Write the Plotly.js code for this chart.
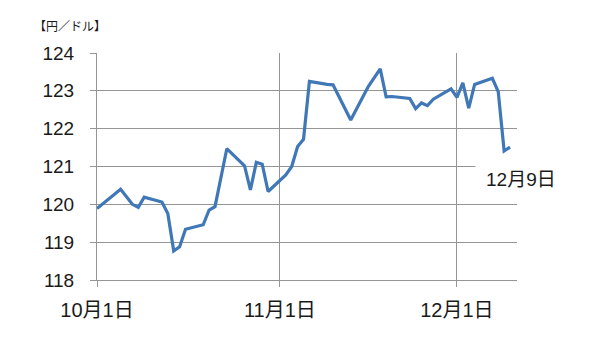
<!DOCTYPE html>
<html>
<head>
<meta charset="utf-8">
<script src="https://cdn.plot.ly/plotly-3.0.1.min.js"></script>
<style>
  html, body { margin: 0; padding: 0; background: #fff; }
  #chart { width: 600px; height: 364px; }
</style>
</head>
<body>
<div id="chart"></div>
<script>
// Trading days (2015) and USD/JPY rate
const dates = [
  '2015-10-01','2015-10-05','2015-10-07','2015-10-08','2015-10-09',
  '2015-10-12','2015-10-13','2015-10-14','2015-10-15','2015-10-16',
  '2015-10-19','2015-10-20','2015-10-21','2015-10-23','2015-10-26',
  '2015-10-27','2015-10-28','2015-10-29','2015-10-30','2015-11-02',
  '2015-11-03','2015-11-04','2015-11-05','2015-11-06','2015-11-09',
  '2015-11-10','2015-11-13','2015-11-16','2015-11-18','2015-11-19',
  '2015-11-20','2015-11-23','2015-11-24','2015-11-25','2015-11-26',
  '2015-11-27','2015-11-30','2015-12-01','2015-12-02','2015-12-03',
  '2015-12-04','2015-12-07','2015-12-08','2015-12-09','2015-12-10'
];
const rates = [
  119.89,120.40,120.00,119.92,120.19,
  120.06,119.76,118.77,118.88,119.34,
  119.46,119.85,119.94,121.47,121.02,
  120.38,121.11,121.06,120.34,120.78,
  121.00,121.53,121.72,123.25,123.17,
  123.16,122.23,123.12,123.58,122.84,
  122.85,122.80,122.53,122.68,122.61,
  122.78,123.05,122.83,123.21,122.54,
  123.17,123.33,122.98,121.41,121.51
];
const xTickVals = ['2015-10-01','2015-11-01','2015-12-01'];
const xTickText = ['10月1日','11月1日','12月1日'];
const yTickVals = [118,119,120,121,122,123,124];
const unitLabel = '【円／ドル】';
const lastLabel = '12月9日';

const FONT = 'Liberation Sans, Noto Sans CJK JP, sans-serif';
const GRID = '#959595';

const trace = {
  x: dates, y: rates, type: 'scatter', mode: 'lines',
  line: { color: '#3F77B7', width: 3.2 },
  hoverinfo: 'skip'
};

const layout = {
  width: 600, height: 364,
  margin: { l: 97, r: 83, t: 53, b: 84 },
  paper_bgcolor: '#fff', plot_bgcolor: '#fff',
  showlegend: false,
  font: { family: FONT, size: 19, color: '#1a1a1a' },
  xaxis: {
    type: 'date',
    range: ['2015-10-01', '2015-12-11 04:20'],
    tickmode: 'array', tickvals: xTickVals, ticktext: xTickText,
    ticks: 'outside', ticklen: 6, tickcolor: GRID, tickwidth: 1,
    showgrid: true, gridcolor: GRID, gridwidth: 1,
    showline: true, linecolor: GRID, linewidth: 1,
    zeroline: false, fixedrange: true,
    ticklabelstandoff: 6,
    tickfont: { family: FONT, size: 20, color: '#1a1a1a' }
  },
  yaxis: {
    range: [118, 124],
    tickmode: 'array', tickvals: yTickVals,
    ticks: 'outside', ticklen: 6, tickcolor: GRID, tickwidth: 1,
    showgrid: true, gridcolor: GRID, gridwidth: 1,
    showline: true, linecolor: GRID, linewidth: 1,
    zeroline: false, fixedrange: true,
    ticklabelstandoff: 12,
    tickfont: { family: FONT, size: 19, color: '#1a1a1a' }
  },
  annotations: [
    {
      text: unitLabel, xref: 'paper', yref: 'paper',
      x: -0.155, y: 1.12, xanchor: 'left', yanchor: 'middle',
      showarrow: false,
      font: { family: 'Noto Sans CJK JP, sans-serif', size: 12, color: '#1a1a1a' }
    },
    {
      text: lastLabel, xref: 'paper', yref: 'paper',
      x: 0.9006, y: 0.441, xanchor: 'left', yanchor: 'middle',
      showarrow: false, bgcolor: '#fff', borderpad: 10,
      font: { family: FONT, size: 19, color: '#1a1a1a' }
    }
  ]
};

Plotly.newPlot('chart', [trace], layout, { displayModeBar: false, staticPlot: true });
</script>
</body>
</html>
